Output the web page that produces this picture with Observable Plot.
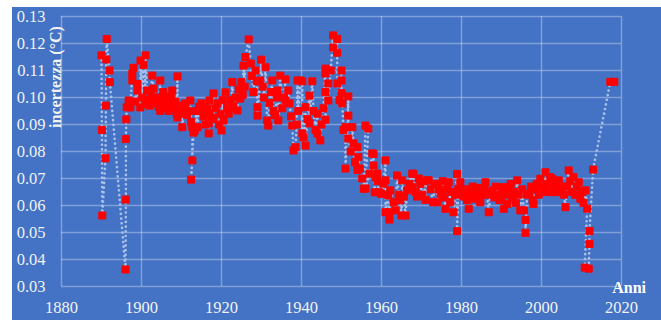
<!DOCTYPE html>
<html><head><meta charset="utf-8">
<script src="https://cdn.jsdelivr.net/npm/d3@7"></script>
<script src="https://cdn.jsdelivr.net/npm/@observablehq/plot@0.6"></script>
<style>
html,body{margin:0;padding:0;background:#fff;width:661px;height:320px;overflow:hidden}
#chart{position:absolute;left:12px;top:7px;width:649px;height:313px;background:#4472C4}
</style></head><body><div id="chart"></div>
<script>
const xTicks = [1880, 1900, 1920, 1940, 1960, 1980, 2000, 2020];
const yTicks = [0.03, 0.04, 0.05, 0.06, 0.07, 0.08, 0.09, 0.10, 0.11, 0.12, 0.13];
const yLabel = "incertezza (°C)";
const xLabel = "Anni";
// [anno, incertezza]
const samples = [
[1890.0,0.1156],[1890.1,0.0880],[1890.2,0.0563],[1891.0,0.0775],[1891.1,0.0970],[1891.2,0.1141],[1891.3,0.1217],[1892.0,0.1100],[1892.1,0.1057],
[1896.0,0.0363],[1896.1,0.0622],[1896.1,0.0846],[1896.2,0.0919],[1896.3,0.0964],
[1896.8,0.0989],[1897.2,0.0963],[1897.7,0.1088],[1897.7,0.1063],[1898.0,0.1110],[1898.5,0.0985],[1899.0,0.1050],[1899.0,0.1026],[1899.7,0.0963],[1899.75,0.1137],
[1900.2,0.1000],[1900.5,0.1120],[1900.8,0.0975],[1901.0,0.1156],[1901.4,0.1026],[1901.8,0.0990],[1902.0,0.0970],[1902.3,0.1010],[1902.7,0.1081],[1903.0,0.1033],[1903.5,0.0978],[1903.9,0.1000],
[1904.0,0.0985],[1904.3,0.0965],[1904.7,0.1063],[1904.7,0.0950],[1905.0,0.0989],[1905.4,0.1020],[1905.8,0.1000],[1906.0,0.0975],[1906.3,0.0960],[1906.8,0.0950],[1907.0,0.0989],[1907.4,0.1005],[1907.7,0.1026],
[1908.0,0.0963],[1908.4,0.0985],[1908.8,0.0940],[1909.0,0.1078],[1909.0,0.0926],[1909.5,0.0970],[1909.7,0.0940],[1910.0,0.0955],[1910.2,0.0890],[1910.5,0.0960],[1911.0,0.0978],[1911.4,0.0935],
[1911.8,0.0950],[1912.2,0.0989],[1912.4,0.0910],[1912.7,0.0890],[1912.7,0.0767],[1912.4,0.0696],[1913.0,0.0870],[1913.3,0.0878],[1913.7,0.0950],[1914.0,0.0890],[1914.4,0.0965],
[1914.7,0.0952],[1915.0,0.0978],[1915.5,0.0930],[1916.0,0.0900],[1916.4,0.0960],[1916.8,0.0904],[1916.8,0.0867],[1917.0,0.0989],[1917.0,0.0940],[1917.5,0.0920],[1918.0,0.1015],
[1918.0,0.0926],[1918.5,0.0960],[1919.0,0.0978],[1919.4,0.0900],[1919.8,0.0940],[1920.0,0.0878],[1920.3,0.0990],[1920.5,0.0915],[1921.0,0.1019],[1921.4,0.0963],[1921.8,0.0940],
[1922.2,0.0990],[1922.5,0.0960],[1922.7,0.1057],[1923.0,0.0970],[1923.5,0.1000],[1924.0,0.0952],[1924.3,0.1030],[1924.7,0.0996],[1925.0,0.1057],[1925.3,0.1010],[1925.5,0.1118],[1925.8,0.1040],[1926.0,0.1150],
[1926.8,0.1215],[1927.3,0.1126],[1927.6,0.1080],[1928.0,0.1020],[1928.5,0.1100],[1928.8,0.1060],[1929.0,0.0964],[1929.0,0.0933],[1929.7,0.1063],[1929.9,0.1140],[1930.3,0.1040],
[1930.6,0.1000],[1931.0,0.1112],[1931.4,0.0915],[1931.7,0.0896],[1932.0,0.0980],[1932.4,0.1020],[1932.7,0.1063],[1933.0,0.0950],[1933.4,0.0935],[1933.8,0.1000],[1934.0,0.1026],
[1934.2,0.0915],[1934.7,0.1081],[1935.2,0.0960],[1935.6,0.1000],[1936.0,0.1067],[1936.0,0.0989],[1936.7,0.1026],[1937.0,0.0978],[1937.4,0.0930],[1937.7,0.0896],[1938.0,0.0804],
[1938.5,0.0816],[1938.8,0.0900],[1939.0,0.1063],[1939.2,0.0950],[1939.75,0.1063],[1940.2,0.1060],[1940.2,0.0867],[1940.5,0.0852],[1941.0,0.0964],[1941.0,0.0822],[1941.5,0.0920],
[1942.0,0.1007],[1942.0,0.0904],[1942.7,0.1060],[1943.0,0.0950],[1943.5,0.0880],[1944.0,0.0940],[1944.0,0.0867],[1944.7,0.0841],[1945.0,0.0900],[1945.5,0.0960],[1946.0,0.1107],
[1946.0,0.1089],[1946.0,0.1020],[1946.0,0.0918],[1946.7,0.1052],[1946.7,0.0989],[1947.3,0.1100],[1947.9,0.1230],[1947.9,0.1185],[1948.9,0.1217],[1948.9,0.1166],[1949.0,0.1052],
[1949.5,0.0990],[1950.0,0.1100],[1950.0,0.1063],[1950.0,0.1016],[1950.2,0.0978],[1950.5,0.0880],[1951.0,0.0890],[1951.0,0.0737],[1951.7,0.1004],[1951.7,0.0933],[1951.7,0.0848],
[1952.3,0.0800],[1952.7,0.0890],[1953.0,0.0830],[1953.4,0.0760],[1954.0,0.0816],[1954.0,0.0732],[1954.2,0.0779],[1954.6,0.0737],[1955.2,0.0700],[1955.6,0.0662],[1956.0,0.0896],
[1956.7,0.0885],[1956.0,0.0663],[1957.0,0.0718],[1957.7,0.0793],[1958.0,0.0791],[1958.0,0.0748],[1958.3,0.0649],[1958.5,0.0705],[1959.0,0.0718],[1959.0,0.0690],[1959.4,0.0649],
[1960.0,0.0643],[1960.5,0.0681],[1961.0,0.0767],[1961.0,0.0693],[1961.0,0.0575],[1961.7,0.0637],[1962.0,0.0575],[1962.0,0.0548],[1962.2,0.0656],[1963.0,0.0612],[1963.5,0.0582],
[1963.9,0.0711],[1964.3,0.0640],[1964.7,0.0619],[1965.0,0.0563],[1965.2,0.0693],[1965.6,0.0633],[1966.0,0.0563],[1966.4,0.0656],[1967.0,0.0680],[1967.7,0.0718],[1967.7,0.0668],
[1968.0,0.0717],[1968.5,0.0650],[1968.9,0.0633],[1969.3,0.0700],[1969.7,0.0680],[1970.2,0.0640],[1970.6,0.0690],[1971.0,0.0621],[1971.4,0.0693],[1971.8,0.0693],[1972.3,0.0660],
[1972.9,0.0612],[1973.3,0.0680],[1973.9,0.0680],[1974.0,0.0612],[1974.4,0.0660],[1974.8,0.0643],[1975.3,0.0690],[1975.7,0.0630],[1976.0,0.0588],[1976.4,0.0660],[1976.8,0.0686],
[1977.2,0.0612],[1977.6,0.0650],[1978.0,0.0575],[1978.4,0.0640],[1978.9,0.0717],[1978.9,0.0505],[1979.2,0.0660],[1979.7,0.0686],[1980.2,0.0640],[1980.6,0.0633],[1981.0,0.0660],
[1981.4,0.0620],[1981.8,0.0656],[1981.8,0.0588],[1982.3,0.0640],[1982.8,0.0670],[1983.3,0.0625],[1983.9,0.0649],[1984.3,0.0665],[1984.7,0.0612],[1985.2,0.0640],[1985.6,0.0660],
[1986.0,0.0686],[1986.4,0.0640],[1986.8,0.0575],[1987.3,0.0650],[1987.7,0.0656],[1988.2,0.0630],[1988.6,0.0670],[1989.0,0.0640],[1989.5,0.0620],[1990.0,0.0633],[1990.3,0.0660],
[1990.6,0.0668],[1990.6,0.0588],[1991.0,0.0640],[1991.4,0.0606],[1991.8,0.0660],[1992.3,0.0680],[1992.7,0.0630],[1993.2,0.0650],[1993.6,0.0610],[1993.9,0.0693],[1994.3,0.0640],
[1994.7,0.0582],[1995.2,0.0660],[1995.6,0.0582],[1996.0,0.0547],[1996.0,0.0499],[1996.4,0.0640],[1997.0,0.0643],[1997.4,0.0670],[1997.8,0.0620],[1998.0,0.0606],[1998.4,0.0660],
[1998.8,0.0680],[1999.3,0.0640],[1999.7,0.0699],[2000.2,0.0670],[2000.6,0.0650],[2001.0,0.0723],[2001.4,0.0680],[2001.8,0.0650],[2002.2,0.0705],[2002.7,0.0699],[2003.0,0.0649],
[2003.4,0.0670],[2003.9,0.0680],[2004.3,0.0693],[2004.7,0.0650],[2005.2,0.0670],[2005.6,0.0640],[2006.0,0.0594],[2006.4,0.0670],[2006.8,0.0730],[2007.2,0.0690],[2007.6,0.0650],
[2008.0,0.0705],[2008.4,0.0640],[2008.8,0.0670],[2009.3,0.0686],[2009.7,0.0625],[2010.2,0.0650],[2010.5,0.0610],[2011.0,0.0656],[2011.4,0.0588],[2010.8,0.0370],[2011.8,0.0366],
[2012.0,0.0458],[2012.0,0.0505],[2012.9,0.0733],[2017.2,0.1058],[2018.2,0.1058]
];
const data = samples.map(([x, y]) => ({x, y}));
const gridStyle = {stroke: "#ffffff", strokeOpacity: 0.32, strokeWidth: 1.5};
const plot = Plot.plot({
  width: 649, height: 313,
  marginLeft: 49, marginRight: 40, marginTop: 9, marginBottom: 34,
  style: {background: "transparent", fontFamily: "'Liberation Serif', serif", fontSize: "16.5px", color: "#f2f2f2", overflow: "visible"},
  x: {domain: [1880, 2020]},
  y: {domain: [0.03, 0.13]},
  marks: [
    Plot.gridX(xTicks, gridStyle),
    Plot.gridY(yTicks, gridStyle),
    Plot.axisX(xTicks, {tickSize: 0, tickPadding: 15, label: null, tickFormat: d3.format("d")}),
    Plot.axisY(yTicks, {tickSize: 0, tickPadding: 16, label: null, tickFormat: d3.format(".2f")}),
    Plot.line(data, {x: "x", y: "y", stroke: "#a9c1ea", strokeWidth: 2.6, strokeDasharray: "0.1 4.6", strokeLinecap: "round"}),
    Plot.dot(data, {x: "x", y: "y", symbol: "square", r: 3.95, fill: "#ff0000", stroke: "#ff0000", strokeWidth: 1, strokeLinejoin: "round"})
  ]
});
document.getElementById("chart").appendChild(plot);
const svg = d3.select(plot);
svg.append("text").attr("transform", "translate(43,70) rotate(-90)")
  .attr("text-anchor", "middle").attr("dy", "0.35em").attr("font-weight", "bold")
  .attr("font-size", "16px").attr("fill", "#f2f2f2").text(yLabel);
svg.append("text").attr("x", 634).attr("y", 286).attr("text-anchor", "end")
  .attr("font-weight", "bold").attr("font-size", "16px").attr("fill", "#ffffff").text(xLabel);
</script></body></html>
